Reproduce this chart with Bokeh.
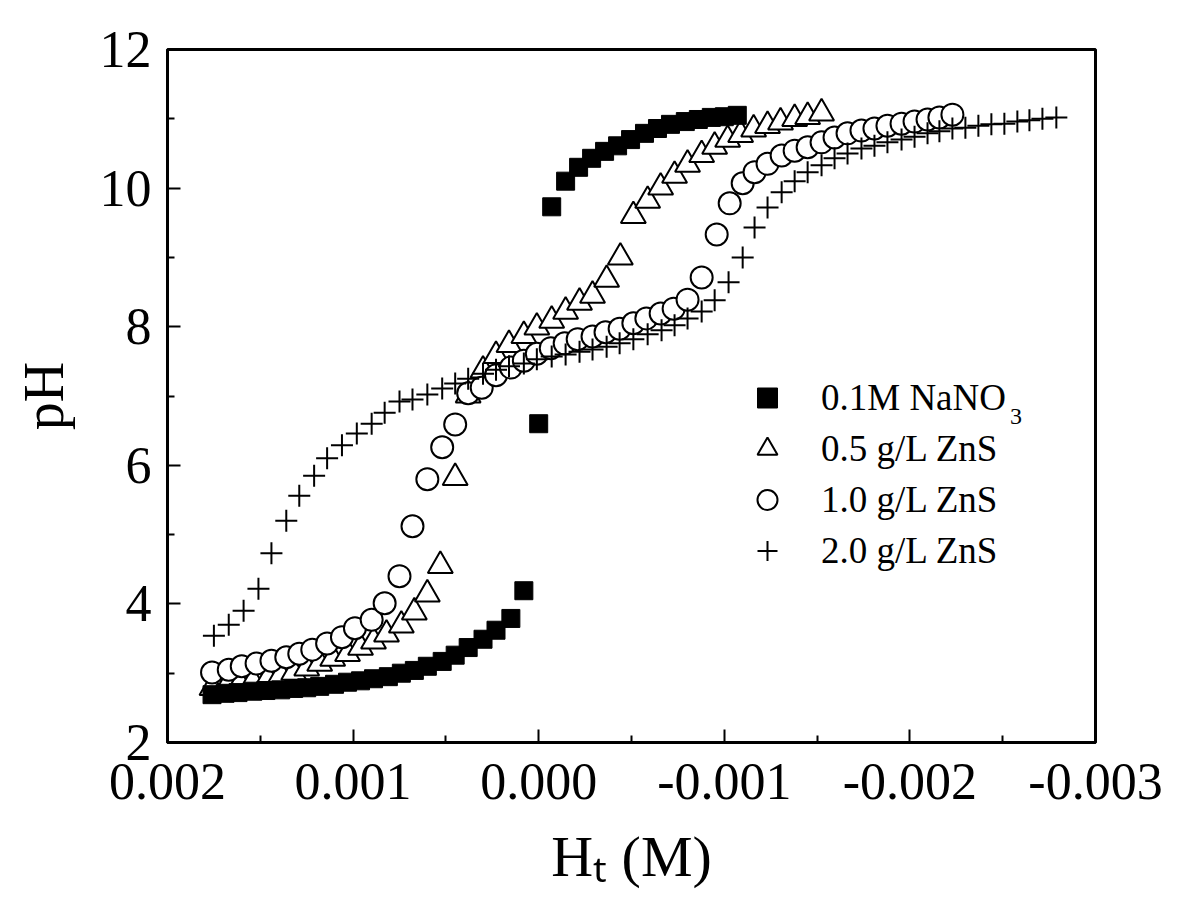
from bokeh.plotting import figure
from bokeh.models import (Range1d, FixedTicker, CustomJSTickFormatter, Label,
                          Legend, LegendItem)
from bokeh.embed import file_html
from bokeh.resources import INLINE

# ---------------- data (H_t in M, pH) ----------------
nano3_x = [0.00176, 0.00169, 0.00162, 0.00154, 0.00147, 0.00139, 0.00132, 0.00125, 0.00118, 0.00110,
           0.00103, 0.00096, 0.00089, 0.00081, 0.00074, 0.00067, 0.00060, 0.00052, 0.00045, 0.00038,
           0.00030, 0.00023, 0.00015, 0.00008, 0.00000, -0.00007, -0.000145, -0.000215, -0.000285,
           -0.000355, -0.000425, -0.000495, -0.00057, -0.00064, -0.00071, -0.00079, -0.00086,
           -0.00093, -0.00100, -0.00107]
nano3_y = [2.69, 2.71, 2.72, 2.74, 2.75, 2.76, 2.78, 2.79, 2.81, 2.84,
           2.87, 2.89, 2.92, 2.95, 3.00, 3.04, 3.10, 3.17, 3.26, 3.37,
           3.49, 3.62, 3.79, 4.19, 6.60, 9.73, 10.10, 10.30, 10.43,
           10.53, 10.61, 10.70, 10.79, 10.86, 10.92, 10.96, 10.99,
           11.02, 11.03, 11.05]

zns05_x = [0.00176, 0.00168, 0.00161, 0.00154, 0.00146, 0.00139, 0.00132, 0.00125, 0.00118, 0.00111,
           0.00103, 0.00096, 0.00089, 0.00082, 0.00074, 0.00067, 0.00060, 0.00053, 0.00045,
           0.00038, 0.00030, 0.00023, 0.00016, 0.00008, 0.00001, -0.00007, -0.000145, -0.00022,
           -0.00029, -0.000366, -0.00044,
           -0.00051, -0.000587, -0.000657, -0.000732, -0.000802, -0.000878, -0.000948, -0.001018,
           -0.001088, -0.001158, -0.001233, -0.001303, -0.001379, -0.001449, -0.001524]
zns05_y = [2.79, 2.82, 2.85, 2.88, 2.92, 2.97, 3.01, 3.07, 3.14, 3.21,
           3.28, 3.37, 3.46, 3.56, 3.69, 3.88, 4.14, 4.55, 5.82,
           7.01, 7.37, 7.58, 7.74, 7.87, 7.99, 8.09, 8.22, 8.35,
           8.45, 8.68, 9.00,
           9.60, 9.82, 10.01, 10.18, 10.34, 10.48, 10.60, 10.70,
           10.77, 10.85, 10.90, 10.95, 11.00, 11.03, 11.08]

zns10_x = [0.00176, 0.00167, 0.00160, 0.00152, 0.00144, 0.00136, 0.00129, 0.00122, 0.00114, 0.00106,
           0.00099, 0.00090, 0.00083, 0.00075, 0.00068, 0.00060, 0.00052, 0.00045, 0.00038, 0.000307,
           0.00023, 0.00015, 0.00008, 0.00001, -0.000065, -0.00014, -0.00021, -0.00029, -0.00036, -0.000436,
           -0.00051, -0.00058, -0.000657, -0.000727, -0.000802, -0.000878, -0.000959, -0.001029, -0.001099, -0.001163,
           -0.001233, -0.001309, -0.001379, -0.001449, -0.001524, -0.001594, -0.001664, -0.001739, -0.001809, -0.001879,
           -0.001955, -0.002025, -0.002095, -0.002159, -0.002229]
zns10_y = [3.01, 3.05, 3.10, 3.14, 3.18, 3.23, 3.28, 3.34, 3.43, 3.52,
           3.65, 3.77, 4.01, 4.40, 5.12, 5.80, 6.26, 6.59, 7.04, 7.12,
           7.30, 7.41, 7.51, 7.61, 7.69, 7.76, 7.82, 7.86, 7.92, 7.97,
           8.05, 8.12, 8.19, 8.26, 8.39, 8.71, 9.33, 9.78, 10.07, 10.23,
           10.35, 10.47, 10.54, 10.59, 10.66, 10.73, 10.79, 10.83, 10.86, 10.90,
           10.93, 10.96, 10.99, 11.02, 11.06]

zns20_x = [0.00175, 0.00167, 0.00159, 0.00151, 0.00144, 0.00136, 0.00129, 0.00121, 0.00114, 0.00106,
           0.00098, 0.00090, 0.00083, 0.00075, 0.00068, 0.00060, 0.00052, 0.00045, 0.00038, 0.00030,
           0.00023, 0.00016, 0.00008, 0.00001, -0.00007, -0.000145, -0.00022, -0.00029, -0.000366, -0.000436,
           -0.00051, -0.000587, -0.000662, -0.000732, -0.000802, -0.000878, -0.000948, -0.001023, -0.001099, -0.001163,
           -0.001233, -0.001309, -0.001379, -0.001449, -0.001524, -0.001594, -0.001664, -0.001739, -0.001809, -0.001879,
           -0.001955, -0.002025, -0.002095, -0.002159, -0.002229, -0.002299, -0.002369, -0.002439, -0.002509, -0.002579,
           -0.002644, -0.002714, -0.002789]
zns20_y = [3.54, 3.70, 3.90, 4.22, 4.73, 5.20, 5.56, 5.85, 6.10, 6.29,
           6.46, 6.60, 6.76, 6.92, 6.95, 7.02, 7.11, 7.18, 7.25, 7.32,
           7.38, 7.43, 7.47, 7.53, 7.57, 7.60, 7.64, 7.67, 7.71, 7.76,
           7.82, 7.89, 7.95, 8.02, 8.12, 8.22, 8.38, 8.64, 9.00, 9.43,
           9.72, 9.94, 10.10, 10.23, 10.33, 10.43, 10.50, 10.57, 10.61, 10.66,
           10.70, 10.74, 10.79, 10.82, 10.86, 10.87, 10.90, 10.92, 10.93, 10.96,
           10.98, 11.00, 11.02]

legend_labels = ["0.1M NaNO", "0.5 g/L ZnS", "1.0 g/L ZnS", "2.0 g/L ZnS"]
x_ticks = [0.002, 0.001, 0.0, -0.001, -0.002, -0.003]
x_minor = [0.0015, 0.0005, -0.0005, -0.0015, -0.0025]
y_ticks = [2, 4, 6, 8, 10, 12]
y_minor = [3, 5, 7, 9, 11]

FONT = "Liberation Serif"

p = figure(width=1184, height=908, output_backend="svg", toolbar_location=None,
           x_range=Range1d(0.002, -0.003), y_range=Range1d(2, 12),
           min_border_left=167, min_border_right=89, min_border_top=49, min_border_bottom=166)
p.grid.visible = False
p.outline_line_color = "black"
p.outline_line_width = 3
p.background_fill_color = "white"
p.border_fill_color = "white"

for ax in (p.xaxis[0], p.yaxis[0]):
    ax.axis_line_width = 3
    ax.axis_line_color = "black"
    ax.major_tick_in = 13
    ax.major_tick_out = 0
    ax.minor_tick_in = 7
    ax.minor_tick_out = 0
    ax.major_tick_line_width = 2
    ax.minor_tick_line_width = 2
    ax.major_tick_line_color = "black"
    ax.minor_tick_line_color = "black"
    ax.major_label_text_font = FONT
    ax.major_label_text_font_size = "52px"
    ax.major_label_text_color = "black"
    ax.axis_label_text_font = FONT
    ax.axis_label_text_font_style = "normal"
    ax.axis_label_text_color = "black"

p.xaxis.ticker = FixedTicker(ticks=x_ticks, minor_ticks=x_minor)
p.xaxis.formatter = CustomJSTickFormatter(
    code="return Math.abs(tick) < 1e-12 ? '0.000' : tick.toFixed(3);")
p.xaxis.major_label_standoff = 21
p.yaxis.ticker = FixedTicker(ticks=y_ticks, minor_ticks=y_minor)
p.yaxis.major_label_standoff = 16

p.yaxis.axis_label = "pH"
p.yaxis.axis_label_text_font_size = "56px"
p.yaxis.axis_label_standoff = 22

p.xaxis.axis_label = "H\u209c (M)"
p.xaxis.axis_label_text_font_size = "58px"
p.xaxis.axis_label_standoff = 22

r_tri = p.scatter(zns05_x, zns05_y, marker="triangle", size=25, fill_color="white",
                  line_color="black", line_width=2)
r_sq = p.scatter(nano3_x, nano3_y, marker="square", size=18, fill_color="black",
                 line_color="black", line_width=1)
r_circ = p.scatter(zns10_x, zns10_y, marker="circle", size=22, fill_color="white",
                   line_color="black", line_width=2)
r_cross = p.scatter(zns20_x, zns20_y, marker="cross", size=22, line_color="black",
                    line_width=2)

legend = Legend(items=[LegendItem(label=legend_labels[0], renderers=[r_sq]),
                       LegendItem(label=legend_labels[1], renderers=[r_tri]),
                       LegendItem(label=legend_labels[2], renderers=[r_circ]),
                       LegendItem(label=legend_labels[3], renderers=[r_cross])],
                location=(575, 166), orientation="vertical",
                glyph_width=50, glyph_height=51, label_height=51, spacing=0,
                padding=0, margin=0, label_standoff=29,
                border_line_color=None, background_fill_alpha=0,
                label_text_font=FONT, label_text_font_size="37px",
                label_text_color="black")
p.add_layout(legend)

# subscript "3" of NaNO3
p.add_layout(Label(x=-0.00254, y=6.70, text="3", text_font=FONT, text_font_size="24px",
                   text_color="black", text_baseline="alphabetic"))

open("out.html", "w").write(file_html(p, INLINE))
